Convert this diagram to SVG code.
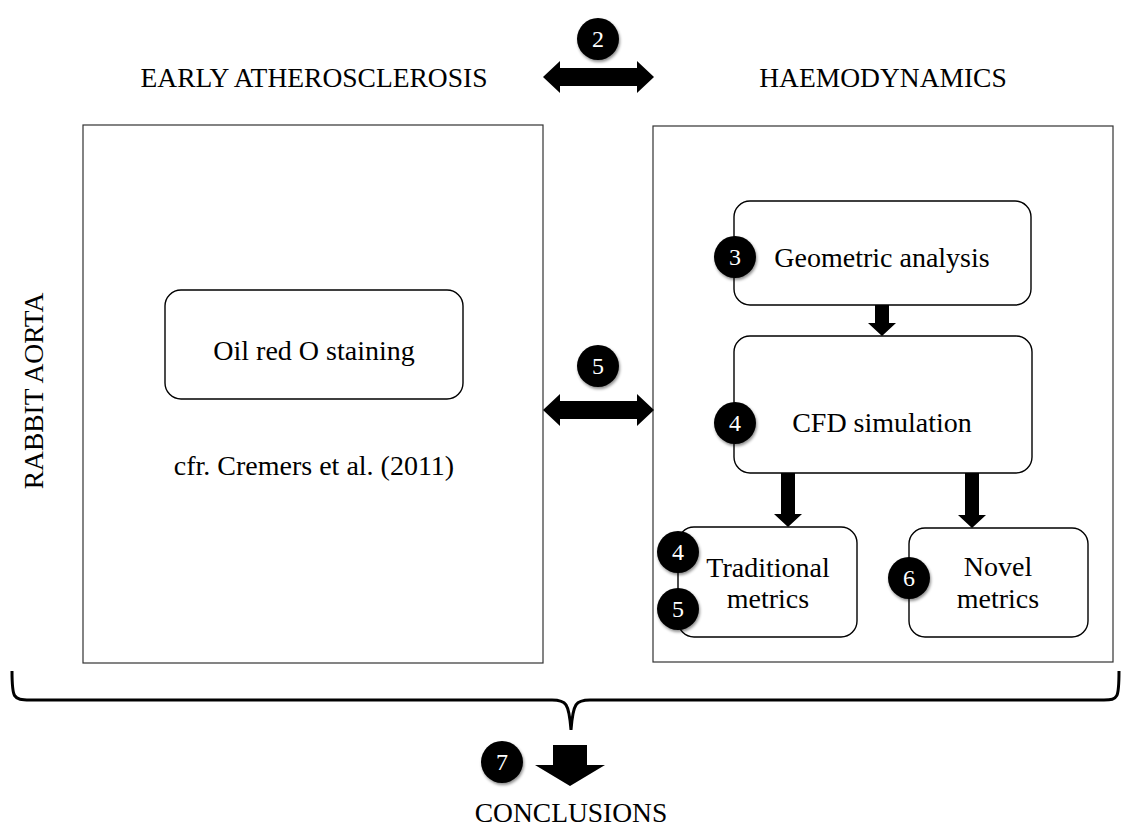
<svg xmlns="http://www.w3.org/2000/svg" width="1127" height="830" viewBox="0 0 1127 830">
<style>
text{font-family:"Liberation Serif","Times New Roman",serif;fill:#000}
.hdr{font-size:27.5px;text-anchor:middle}
.lbl{font-size:28px;text-anchor:middle}
.frame{fill:#fff;stroke:#333;stroke-width:1.2}
.rbox{fill:#fff;stroke:#000;stroke-width:1.4}
.badge circle{fill:#000;filter:url(#sh)}
.badge text{fill:#fff;font-size:24px;text-anchor:middle}
.arr{fill:#000}
</style>
<defs>
<filter id="sh" x="-50%" y="-50%" width="200%" height="200%">
<feDropShadow dx="1" dy="2" stdDeviation="1.6" flood-color="#000" flood-opacity="0.45"/>
</filter>
</defs>
<rect width="1127" height="830" fill="#fff"/>

<text class="hdr" x="314" y="87">EARLY ATHEROSCLEROSIS</text>
<text class="hdr" x="883" y="87">HAEMODYNAMICS</text>
<text class="hdr" transform="translate(43,391) rotate(-90)" x="0" y="0">RABBIT AORTA</text>

<g id="left-panel"><rect class="frame" x="83" y="125" width="460" height="538"/></g>
<g id="right-panel"><rect class="frame" x="653" y="126" width="460" height="536"/></g>

<g id="oil">
<rect class="rbox" x="165" y="290" width="298" height="109" rx="16"/>
<text class="lbl" x="314" y="360">Oil red O staining</text>
</g>
<text class="lbl" x="314" y="475">cfr. Cremers et al. (2011)</text>

<g id="geometric">
<rect class="rbox" x="734" y="201" width="297" height="104" rx="16"/>
<text class="lbl" x="882" y="267">Geometric analysis</text>
</g>
<g id="cfd">
<rect class="rbox" x="734" y="336" width="298" height="137" rx="16"/>
<text class="lbl" x="882" y="432">CFD simulation</text>
</g>
<g id="traditional">
<rect class="rbox" x="678" y="527" width="179" height="110" rx="16"/>
<text class="lbl" x="768" y="577">Traditional</text>
<text class="lbl" x="768" y="608">metrics</text>
</g>
<g id="novel">
<rect class="rbox" x="909" y="528" width="179" height="109" rx="16"/>
<text class="lbl" x="998" y="576">Novel</text>
<text class="lbl" x="998" y="608">metrics</text>
</g>

<g id="connectors">
<polygon class="arr" points="543,77 560,61 560,68 637,68 637,61 654,77 637,93 637,86 560,86 560,93"/>
<polygon class="arr" points="543,410 560,394 560,401 637,401 637,394 654,410 637,426 637,419 560,419 560,426"/>
<polygon class="arr" points="875,305 889,305 889,323 896,323 882,336 868,323 875,323"/>
<polygon class="arr" points="781,473 795,473 795,514 802,514 788,527 774,514 781,514"/>
<polygon class="arr" points="965,473 979,473 979,515 986,515 972,528 958,515 965,515"/>
<path d="M12,671 C12,698 13,700 30,700 L552,700 C566,700 569,703 571,730 C573,703 576,700 590,700 L1104,700 C1118,700 1119,698 1119,671" fill="none" stroke="#000" stroke-width="3"/>
<polygon class="arr" points="553,745 587,745 587,765 605,765 570,786 535,765 553,765"/>
</g>

<g id="badge2" class="badge"><circle cx="598" cy="39" r="21"/><text x="598" y="47">2</text></g>
<g id="badge5m" class="badge"><circle cx="598" cy="366" r="21"/><text x="598" y="374">5</text></g>
<g id="badge3" class="badge"><circle cx="735" cy="257" r="21"/><text x="735" y="265">3</text></g>
<g id="badge4c" class="badge"><circle cx="735" cy="423" r="21"/><text x="735" y="431">4</text></g>
<g id="badge4t" class="badge"><circle cx="678" cy="552" r="21"/><text x="678" y="560">4</text></g>
<g id="badge5t" class="badge"><circle cx="678" cy="609" r="21"/><text x="678" y="617">5</text></g>
<g id="badge6" class="badge"><circle cx="909" cy="578" r="21"/><text x="909" y="586">6</text></g>
<g id="badge7" class="badge"><circle cx="502" cy="762" r="21"/><text x="502" y="770">7</text></g>

<text class="hdr" x="571" y="822">CONCLUSIONS</text>
</svg>
